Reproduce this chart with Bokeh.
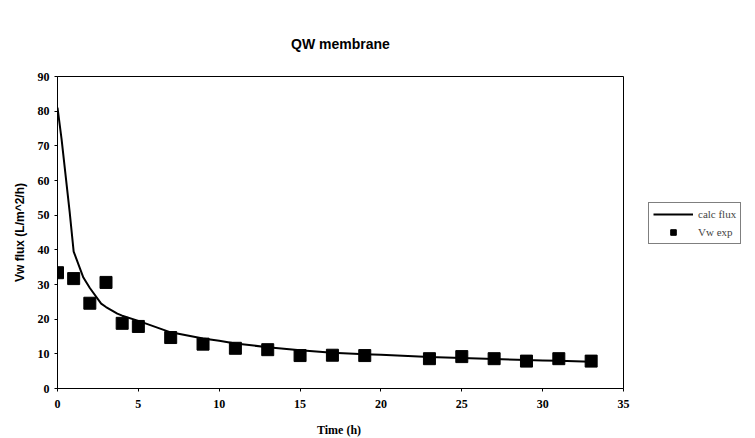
from bokeh.plotting import figure
from bokeh.models import Range1d, Legend, LegendItem, FixedTicker
from bokeh.embed import file_html
from bokeh.resources import INLINE

title = "QW membrane"
x_label = "Time  (h)"
y_label = "Vw flux (L/m^2/h)"

# calculated flux curve
calc_t = [0, 0.25, 0.75, 1, 1.6, 2, 2.7, 3, 3.7, 4, 5, 7, 9, 10, 11, 13, 15, 17, 19, 20, 21, 23, 25, 27, 29, 30, 31, 33]
calc_flux = [81, 72, 51, 39.5, 32, 29, 24.5, 23.5, 21.6, 21, 19.5, 16.2, 14.4, 13.8, 13.0, 11.9, 11.0, 10.3, 9.9, 9.7, 9.5, 9.1, 8.8, 8.5, 8.2, 8.1, 8.0, 7.7]

# experimental flux
exp_t = [0, 1, 2, 3, 4, 5, 7, 9, 11, 13, 15, 17, 19, 23, 25, 27, 29, 31, 33]
exp_flux = [33.4, 31.7, 24.6, 30.6, 18.8, 17.9, 14.7, 12.8, 11.6, 11.2, 9.5, 9.6, 9.5, 8.6, 9.2, 8.6, 7.9, 8.6, 7.9]

x_ticks = [0, 5, 10, 15, 20, 25, 30, 35]
y_ticks = [0, 10, 20, 30, 40, 50, 60, 70, 80, 90]

p = figure(frame_width=566, frame_height=312, output_backend="svg", toolbar_location=None,
           x_range=Range1d(0, 35), y_range=Range1d(0, 90),
           min_border_left=57, min_border_right=0, min_border_top=76, min_border_bottom=50)
p.background_fill_color = "white"
p.border_fill_color = "white"
p.outline_line_color = "black"
p.outline_line_width = 1
p.xgrid.visible = False
p.ygrid.visible = False

p.title.text = title
p.title.text_font = "Liberation Sans"
p.title.text_font_style = "bold"
p.title.text_font_size = "14px"
p.title.align = "center"
p.title.standoff = 49
p.title.text_color = "black"

for ax in (p.xaxis[0], p.yaxis[0]):
    ax.axis_line_color = "black"
    ax.major_tick_line_color = "black"
    ax.minor_tick_line_color = None
    ax.major_tick_out = 3
    ax.major_tick_in = 0
    ax.major_label_text_font = "Liberation Serif"
    ax.major_label_text_font_style = "bold"
    ax.major_label_text_font_size = "12px"
    ax.major_label_text_color = "black"
    ax.axis_label_text_color = "black"
    ax.axis_label_text_font_style = "bold"

p.xaxis.ticker = FixedTicker(ticks=x_ticks)
p.yaxis.ticker = FixedTicker(ticks=y_ticks)
p.xaxis.major_label_standoff = 8
p.xaxis.axis_label = x_label
p.xaxis.axis_label_text_font = "Liberation Serif"
p.xaxis.axis_label_text_font_size = "12px"
p.xaxis.axis_label_standoff = 12
p.yaxis.axis_label = y_label
p.yaxis.axis_label_text_font = "Liberation Sans"
p.yaxis.axis_label_text_font_size = "12px"
p.yaxis.axis_label_standoff = 8

line_r = p.line(calc_t, calc_flux, line_color="black", line_width=2)
sq_r = p.scatter(exp_t, exp_flux, marker="square", size=12, fill_color="black", line_color="black")

legend = Legend(items=[LegendItem(label="calc flux", renderers=[line_r]),
                       LegendItem(label="Vw exp", renderers=[sq_r])],
                location=(25, 144), orientation="vertical")
legend.label_text_font = "Liberation Serif"
legend.label_text_font_size = "11px"
legend.label_height = 14
legend.glyph_height = 14
legend.glyph_width = 40
legend.spacing = 4
legend.padding = 4
legend.margin = 0
legend.border_line_color = "black"
legend.border_line_width = 1
legend.background_fill_alpha = 1
p.add_layout(legend, "right")

open("out.html", "w").write(file_html(p, INLINE))
